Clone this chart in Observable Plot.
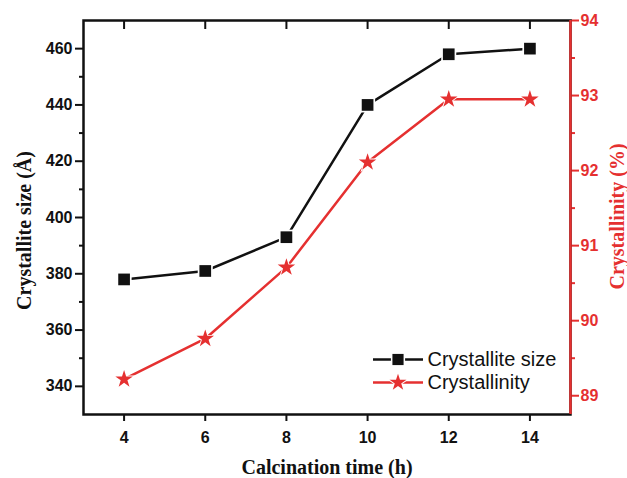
<!DOCTYPE html>
<html><head><meta charset="utf-8">
<script src="https://cdn.jsdelivr.net/npm/d3@7"></script>
<script src="https://cdn.jsdelivr.net/npm/@observablehq/plot@0.6"></script>
<style>body{margin:0;background:#fff} svg{display:block}</style>
</head><body><div id="chart"></div>
<script>
const hours = [4, 6, 8, 10, 12, 14];
const crystalliteSize = [378, 381, 393, 440, 458, 460];
const crystallinity = [89.22, 89.76, 90.71, 92.11, 92.95, 92.95];
const xTicks = [4, 6, 8, 10, 12, 14];
const leftTicks = [340, 360, 380, 400, 420, 440, 460];
const leftMinor = [350, 370, 390, 410, 430, 450];
const rightTicks = [89, 90, 91, 92, 93, 94];
const rightMinor = [89.5, 90.5, 91.5, 92.5, 93.5];
const xDomain = [3, 15];
const leftDomain = [330, 470];
const rightDomain = [88.75, 94];
const seriesNames = ["Crystallite size", "Crystallinity"];

const RED = "#e53030";
const SANS = "'Liberation Sans', Arial, sans-serif";
const SERIF = "'Liberation Serif', 'Times New Roman', serif";
const toLeft = d3.scaleLinear().domain(rightDomain).range(leftDomain);

const sizeData = hours.map((h, i) => ({h, v: crystalliteSize[i]}));
const crysData = hours.map((h, i) => ({h, v: toLeft(crystallinity[i])}));

const hLine = {draw(ctx) { ctx.moveTo(-25, 0); ctx.lineTo(25, 0); }};

const legendRow = (i, symbol, r, halo, color) => [
  Plot.dot([0], {frameAnchor: "bottom-left", dx: 314.5, dy: -55 + i * 23, symbol: hLine, stroke: color, strokeWidth: 2.5}),
  Plot.dot([0], {frameAnchor: "bottom-left", dx: 314.5, dy: -55 + i * 23, symbol, r: halo, fill: "white"}),
  Plot.dot([0], {frameAnchor: "bottom-left", dx: 314.5, dy: -55 + i * 23, symbol, r, fill: color}),
  Plot.text([seriesNames[i]], {frameAnchor: "bottom-left", dx: 344, dy: -55 + i * 23, text: d => d, textAnchor: "start", lineAnchor: "middle", fontSize: 20, fontFamily: SANS, fill: "#111"})
];

const chart = Plot.plot({
  width: 627,
  height: 478,
  marginLeft: 83,
  marginRight: 57,
  marginTop: 20,
  marginBottom: 64,
  style: {fontFamily: SANS, background: "white"},
  x: {domain: xDomain},
  y: {domain: leftDomain},
  marks: [
    Plot.axisY(leftTicks, {anchor: "left", tickSize: 8, tickPadding: 3, strokeWidth: 2, fontSize: 16, fontWeight: "bold", label: null, color: "#111"}),
    Plot.axisY(leftMinor, {anchor: "left", tickSize: 4, strokeWidth: 2, tickFormat: () => "", label: null, color: "#111"}),
    Plot.axisY(rightTicks.map(toLeft), {anchor: "right", tickSize: 8, tickPadding: 2, strokeWidth: 2, fontSize: 16, fontWeight: "bold", label: null, color: RED, tickFormat: d => Math.round(toLeft.invert(d))}),
    Plot.axisY(rightMinor.map(toLeft), {anchor: "right", tickSize: 4, strokeWidth: 2, tickFormat: () => "", label: null, color: RED}),
    Plot.axisX(xTicks, {anchor: "bottom", tickSize: 7, tickPadding: 10, strokeWidth: 2, fontSize: 16, fontWeight: "bold", label: null, color: "#111"}),
    Plot.axisX(xTicks, {anchor: "top", tickSize: -8, strokeWidth: 2, tickFormat: () => "", label: null, color: "#111"}),
    Plot.frame({stroke: "#111", strokeWidth: 2.5}),
    Plot.ruleX([xDomain[1]], {stroke: RED, strokeWidth: 2.5}),
    Plot.line(sizeData, {x: "h", y: "v", stroke: "#111", strokeWidth: 2.5}),
    Plot.dot(sizeData, {x: "h", y: "v", symbol: "square", r: 8.5, fill: "white"}),
    Plot.dot(sizeData, {x: "h", y: "v", symbol: "square", r: 6.6, fill: "#111"}),
    Plot.line(crysData, {x: "h", y: "v", stroke: RED, strokeWidth: 2.5}),
    Plot.dot(crysData, {x: "h", y: "v", symbol: "star", r: 7.3, fill: "white"}),
    Plot.dot(crysData, {x: "h", y: "v", symbol: "star", r: 5.5, fill: RED}),
    ...legendRow(0, "square", 6.3, 8, "#111"),
    ...legendRow(1, "star", 5.3, 7, RED),
    Plot.text(["Calcination time (h)"], {frameAnchor: "bottom", dy: 53, text: d => d, textAnchor: "middle", lineAnchor: "middle", fontSize: 20, fontWeight: "bold", fontFamily: SERIF, fill: "#111"}),
    Plot.text(["Crystallite size (Å)"], {frameAnchor: "left", dx: -59, dy: 13, rotate: -90, text: d => d, textAnchor: "middle", lineAnchor: "middle", fontSize: 20, fontWeight: "bold", fontFamily: SERIF, fill: "#111"}),
    Plot.text(["Crystallinity (%)"], {frameAnchor: "right", dx: 47, dy: -1, rotate: -90, text: d => d, textAnchor: "middle", lineAnchor: "middle", fontSize: 20, fontWeight: "bold", fontFamily: SERIF, fill: RED})
  ]
});
document.getElementById("chart").append(chart);
</script>
</body></html>
